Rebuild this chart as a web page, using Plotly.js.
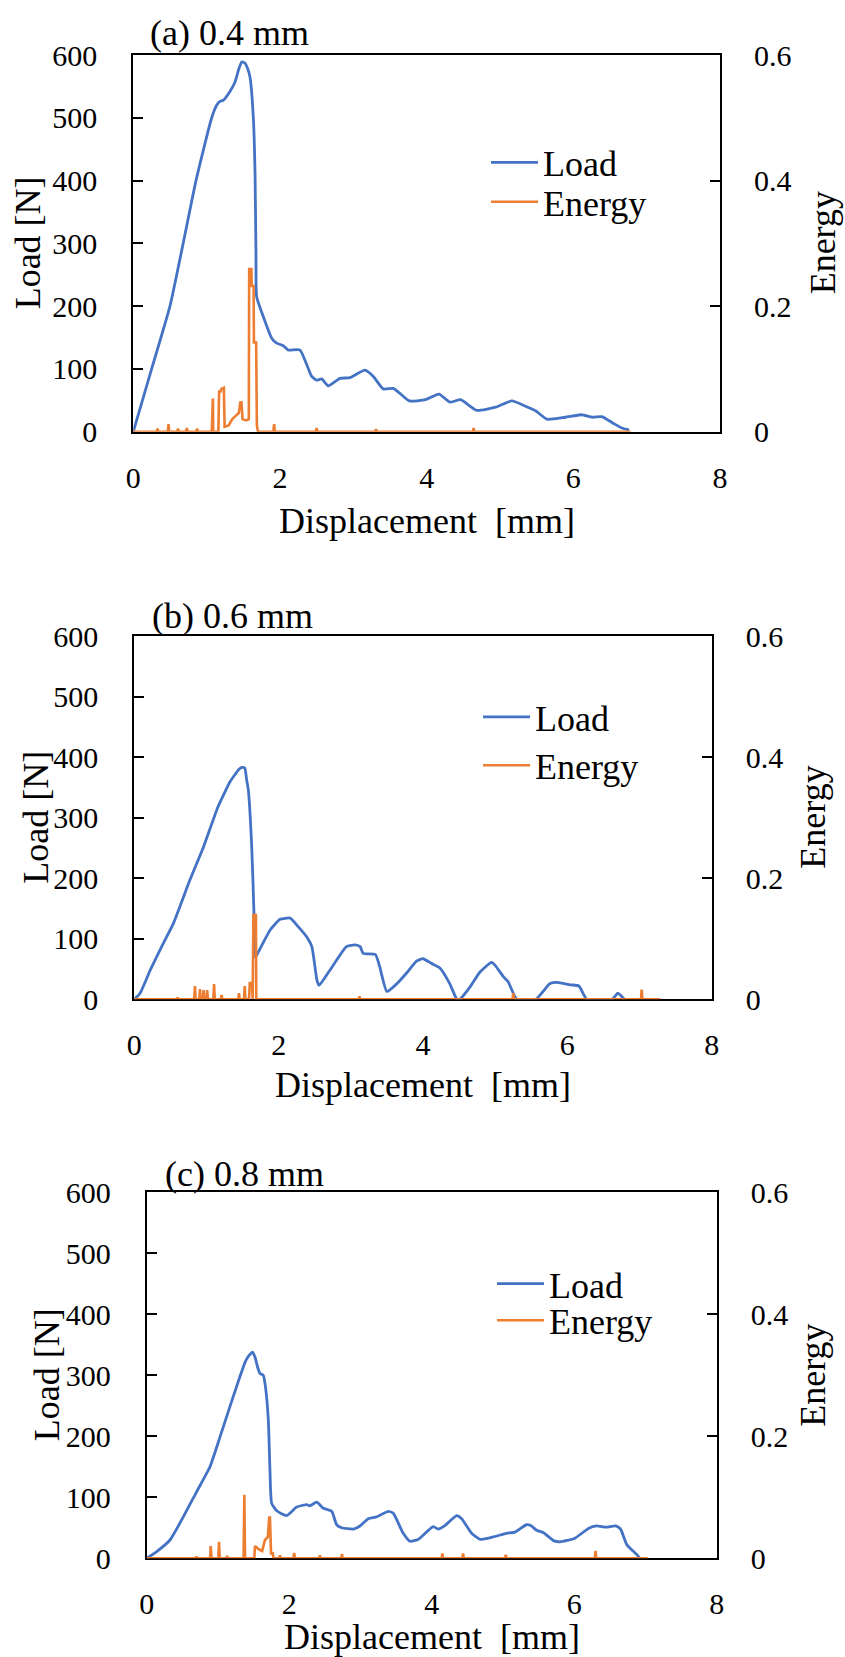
<!DOCTYPE html>
<html><head><meta charset="utf-8">
<script src="https://cdn.plot.ly/plotly-3.0.1.min.js"></script>
<style>html,body{margin:0;padding:0;background:#fff;} #chart{width:845px;height:1657px;}</style>
</head><body><div id="chart"></div>
<script>
// ---------- DATA ----------
const panelTitles = ['(a) 0.4 mm', '(b) 0.6 mm', '(c) 0.8 mm'];
const seriesNames = ['Load', 'Energy'];
const xTitle = 'Displacement  [mm]';
const yTitle = 'Load [N]';
const y2Title = 'Energy';

// (a) 0.4 mm
const loadAx = [0,0.25,0.50,0.68,0.855,1.069,1.137,1.182,1.227,1.318,1.387,1.44,1.478,1.523,1.56,1.591,1.636,1.66,1.673,1.682,1.773,1.887,1.955,2.045,2.114,2.273,2.432,2.50,2.569,2.659,2.818,2.955,3.159,3.273,3.409,3.545,3.636,3.765,3.985,4.169,4.316,4.462,4.683,4.94,5.16,5.38,5.49,5.64,5.89,6.11,6.26,6.39,6.55,6.66,6.76];
const loadAy = [0,100,200,300,400,500,520,526,528,542,557,578,589,587,578,565,502,412,279,215,183,149,141,137,130,130,88,82,84,73,85,86,98,88,68,69,61,49,51,60,47,51,34,39,49,39,33,20,23,27,23,24,13,6,3];
const energyAx = [0,0.32,0.33,0.34,0.47,0.48,0.49,0.60,0.61,0.62,0.72,0.73,0.74,0.86,0.87,0.88,1.07,1.075,1.085,1.09,1.16,1.17,1.19,1.20,1.22,1.235,1.245,1.30,1.35,1.40,1.44,1.46,1.475,1.49,1.54,1.575,1.58,1.61,1.615,1.64,1.645,1.675,1.685,1.70,1.91,1.92,1.93,2.49,2.50,2.51,3.30,3.31,3.32,4.63,4.64,4.65,6.78];
const energyAy = [0,0,0.005,0,0,0.012,0,0,0.005,0,0,0.006,0,0,0.005,0,0,0.053,0.053,0,0,0.064,0.064,0.068,0.070,0.070,0.008,0.010,0.020,0.025,0.030,0.047,0.047,0.020,0.018,0.020,0.259,0.259,0.232,0.232,0.142,0.142,0.010,0,0,0.012,0,0,0.006,0,0,0.004,0,0,0.006,0,0];

// (b) 0.6 mm
const loadBx = [0,0.08,0.22,0.40,0.54,0.77,0.96,1.16,1.33,1.40,1.45,1.49,1.53,1.557,1.58,1.627,1.658,1.672,1.695,1.88,2.02,2.16,2.27,2.39,2.46,2.53,2.56,2.71,2.94,3.06,3.13,3.17,3.34,3.40,3.50,3.64,3.77,3.91,4.00,4.12,4.24,4.37,4.47,4.51,4.65,4.79,4.95,5.00,5.11,5.18,5.30,5.56,5.76,5.86,6.04,6.16,6.27,6.62,6.70,6.79];
const loadBy = [0,10,48,92,125,197,252,318,360,372,380,383,382,362,346,252,142,70,73,114,132,134,120,103,87,32,23,48,87,90,87,76,74,54,13,26,43,63,67,59,51,26,0,0,20,45,61,56,38,29,0,0,26,28,24,22,0,0,10,0];
const energyBx = [0,0.59,0.60,0.61,0.83,0.84,0.85,0.90,0.91,0.92,0.95,0.96,0.97,1.00,1.01,1.02,1.095,1.105,1.115,1.20,1.21,1.22,1.44,1.45,1.46,1.52,1.53,1.54,1.59,1.60,1.63,1.64,1.65,1.685,1.69,3.11,3.12,3.13,5.24,5.25,5.26,7.02,7.03,7.04,7.29];
const energyBy = [0,0,0.003,0,0,0.022,0,0,0.017,0,0,0.015,0,0,0.015,0,0,0.025,0,0,0.007,0,0,0.010,0,0,0.022,0,0,0.027,0.027,0,0.139,0.139,0,0,0.005,0,0,0.010,0,0,0.016,0,0];

// (c) 0.8 mm
const loadCx = [0,0.14,0.327,0.514,0.70,0.888,1.029,1.169,1.309,1.386,1.44,1.485,1.52,1.56,1.59,1.636,1.667,1.707,1.73,1.754,1.825,1.965,2.105,2.246,2.29,2.386,2.48,2.596,2.667,2.737,2.90,2.994,3.11,3.228,3.39,3.46,3.60,3.695,3.81,4.02,4.09,4.19,4.35,4.42,4.56,4.68,4.86,5.05,5.17,5.33,5.40,5.47,5.57,5.71,5.80,6.01,6.20,6.31,6.45,6.58,6.65,6.74,6.88,6.92];
const loadCy = [0,11,30,68,109,150,199,249,298,323,333,338,330,312,303,300,281,227,145,90,78,70,84,88,86,92,82,77,55,50,48,53,65,68,77,74,41,28,31,52,48,54,70,65,41,31,35,41,43,55,53,46,42,29,27,33,49,53,51,53,48,22,6,0];
const energyCx = [0,0.69,0.70,0.71,0.89,0.898,0.91,1.005,1.015,1.025,1.12,1.13,1.14,1.36,1.37,1.38,1.51,1.52,1.57,1.62,1.66,1.70,1.72,1.73,1.745,1.77,1.78,1.86,1.87,1.88,2.06,2.07,2.08,2.42,2.43,2.44,2.73,2.74,2.75,4.14,4.15,4.16,4.43,4.44,4.45,5.03,5.04,5.05,6.29,6.30,6.31,7.03];
const energyCy = [0,0,0.003,0,0,0.020,0,0,0.027,0,0,0.004,0,0,0.104,0,0,0.020,0.015,0.012,0.030,0.035,0.067,0.067,0.008,0.008,0,0,0.005,0,0,0.009,0,0,0.005,0,0,0.007,0,0,0.008,0,0,0.008,0,0,0.006,0,0,0.012,0,0];

const loadXs = [loadAx, loadBx, loadCx];
const loadYs = [loadAy, loadBy, loadCy];
const energyXs = [energyAx, energyBx, energyCx];
const energyYs = [energyAy, energyBy, energyCy];

// ---------- LAYOUT (pixel geometry of each panel) ----------
const W = 845, H = 1657;
const FONT = 'Liberation Serif';
const BLUE = '#4472C4', ORANGE = '#ED7D31';
const geo = [
  {px:[133.3,720], py:[55,431.7], tPos:[148,33.5], xtY:521, ytX:28, etX:823, legX:486, legY:[162.5,201.8]},
  {px:[134.3,711.7], py:[636,999.3], tPos:[150,616], xtY:1085, ytX:36, etX:813, legX:478, legY:[717,765.4]},
  {px:[146.7,716.7], py:[1192.3,1558.3], tPos:[162.7,1174], xtY:1637, ytX:47, etX:813.5, legX:492, legY:[1283.7,1320.3]}
];
const fx = p => p / W;
const fy = p => 1 - p / H;
const tickFont = {size: 30, family: FONT, color: '#000'};
const bigFont = {size: 36, family: FONT, color: '#000'};

const data = [];
const layout = {
  width: W, height: H, margin: {l:0, r:0, t:0, b:0},
  paper_bgcolor: '#fff', plot_bgcolor: 'rgba(0,0,0,0)',
  font: {family: FONT, color: '#000', size: 30},
  showlegend: true,
  annotations: []
};

geo.forEach((g, i) => {
  const xa = i === 0 ? 'x' : 'x' + (i + 1);
  const ya = i === 0 ? 'y' : 'y' + (2 * i + 1);
  const ya2 = 'y' + (2 * i + 2);
  const legL = i === 0 ? 'legend' : 'legend' + (2 * i + 1);
  const legE = 'legend' + (2 * i + 2);
  data.push({x: loadXs[i], y: loadYs[i], xaxis: xa, yaxis: ya, type: 'scatter', mode: 'lines',
    name: seriesNames[0], line: {color: BLUE, width: 2.8, shape: 'spline', smoothing: 0.5}, legend: legL, showlegend: true});
  data.push({x: energyXs[i], y: energyYs[i], xaxis: xa, yaxis: ya2, type: 'scatter', mode: 'lines',
    name: seriesNames[1], line: {color: ORANGE, width: 2.6}, legend: legE, showlegend: true});

  const xk = i === 0 ? 'xaxis' : 'xaxis' + (i + 1);
  const yk = i === 0 ? 'yaxis' : 'yaxis' + (2 * i + 1);
  const y2k = 'yaxis' + (2 * i + 2);
  layout[xk] = {domain: [fx(g.px[0]), fx(g.px[1])], anchor: ya, range: [0, 8], dtick: 2, tick0: 0,
    showline: true, mirror: true, linecolor: '#000', linewidth: 2, ticks: '', showgrid: false, zeroline: false,
    tickfont: tickFont, ticklabelstandoff: 18, layer: 'below traces', fixedrange: true};
  layout[yk] = {domain: [fy(g.py[1]), fy(g.py[0])], anchor: xa, range: [0, 600], dtick: 100, tick0: 0,
    showline: true, linecolor: '#000', linewidth: 2, ticks: 'inside', ticklen: 10, tickwidth: 2, tickcolor: '#000',
    showgrid: false, zeroline: false, tickfont: tickFont, ticklabelstandoff: 28, layer: 'below traces', fixedrange: true};
  layout[y2k] = {overlaying: ya, anchor: xa, side: 'right', range: [0, 0.6], dtick: 0.2, tick0: 0,
    showline: true, linecolor: '#000', linewidth: 2, ticks: 'inside', ticklen: 10, tickwidth: 2, tickcolor: '#000',
    showgrid: false, zeroline: false, tickfont: tickFont, ticklabelstandoff: 26, layer: 'below traces', fixedrange: true};

  const legBase = {xanchor: 'left', yanchor: 'middle', bgcolor: 'rgba(0,0,0,0)', borderwidth: 0, visible: true,
    itemwidth: 47, font: bigFont};
  layout[legL] = Object.assign({x: fx(g.legX), y: fy(g.legY[0])}, legBase);
  layout[legE] = Object.assign({x: fx(g.legX), y: fy(g.legY[1])}, legBase);

  const midX = (g.px[0] + g.px[1]) / 2, midY = (g.py[0] + g.py[1]) / 2;
  layout.annotations.push(
    {text: panelTitles[i], xref: 'paper', yref: 'paper', x: fx(g.tPos[0]), y: fy(g.tPos[1]), xanchor: 'left', yanchor: 'middle', showarrow: false, font: bigFont},
    {text: xTitle, xref: 'paper', yref: 'paper', x: fx(midX), y: fy(g.xtY), xanchor: 'center', yanchor: 'middle', showarrow: false, font: bigFont},
    {text: yTitle, xref: 'paper', yref: 'paper', x: fx(g.ytX), y: fy(midY), xanchor: 'center', yanchor: 'middle', textangle: -90, showarrow: false, font: bigFont},
    {text: y2Title, xref: 'paper', yref: 'paper', x: fx(g.etX), y: fy(midY), xanchor: 'center', yanchor: 'middle', textangle: -90, showarrow: false, font: bigFont}
  );
});

Plotly.newPlot('chart', data, layout, {staticPlot: true, displayModeBar: false});
</script>
</body></html>
